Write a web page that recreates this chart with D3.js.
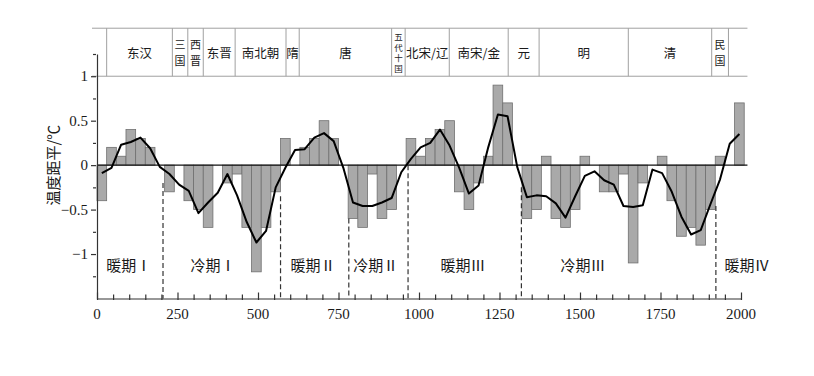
<!DOCTYPE html>
<html>
<head>
<meta charset="utf-8">
<script src="https://cdn.jsdelivr.net/npm/d3@7"></script>
<style>
  body { margin: 0; background: #fff; }
  svg text { fill: #1a1a1a; }
</style>
</head>
<body>
<div id="chart"></div>
<script>
// 30-year temperature anomaly bars (0-2010)
const binStart = d3.range(0, 2010, 30)
const anomaly = [
  -0.4, 0.2, 0.1, 0.4, 0.3, 0.2, 0, -0.3, 0, -0.4,
  -0.5, -0.7, 0, -0.2, -0.1, -0.7, -1.2, -0.7, -0.3, 0.3,
  0, 0.2, 0.3, 0.5, 0.3, 0, -0.6, -0.7, -0.1, -0.6,
  -0.5, 0, 0.3, 0.1, 0.3, 0.4, 0.5, -0.3, -0.5, -0.2,
  0.1, 0.9, 0.7, 0, -0.6, -0.5, 0.1, -0.6, -0.7, -0.5,
  0.1, 0, -0.3, -0.3, -0.1, -1.1, -0.2, 0, 0.1, -0.4,
  -0.8, -0.7, -0.9, -0.5, 0.1, 0, 0.7
]
// smoothed curve, one point per bin
const smooth = [
  -0.09, -0.03, 0.23, 0.26, 0.31, 0.19, -0.02, -0.1, -0.22, -0.29,
  -0.54, -0.42, -0.31, -0.1, -0.34, -0.64, -0.87, -0.74, -0.25, -0.03,
  0.17, 0.18, 0.31, 0.36, 0.27, -0.03, -0.42, -0.46, -0.46, -0.42,
  -0.37, -0.08, 0.07, 0.2, 0.25, 0.4, 0.22, -0.03, -0.32, -0.23,
  0.2, 0.57, 0.55, -0.02, -0.36, -0.34, -0.35, -0.43, -0.59, -0.35,
  -0.12, -0.07, -0.17, -0.22, -0.46, -0.47, -0.45, -0.05, -0.09, -0.3,
  -0.58, -0.78, -0.73, -0.44, -0.16, 0.24, 0.35
]

// dynasty band
const dynastyNames = ["东汉", "三国", "西晋", "东晋", "南北朝", "隋", "唐", "五代十国", "北宋/辽", "南宋/金", "元", "明", "清", "民国"]
const dynastyBounds = [30, 234, 282, 330, 429, 587, 628, 915, 957, 1094, 1277, 1373, 1650, 1909, 1961]
const stackedNames = ["三国", "西晋", "五代十国", "民国"]

// warm / cold periods
const periodNames = ["暖期Ⅰ", "冷期Ⅰ", "暖期Ⅱ", "冷期Ⅱ", "暖期Ⅲ", "冷期Ⅲ", "暖期Ⅳ"]
const periodLabelYear = [99, 360, 671, 866, 1137, 1509, 2019]
const periodBounds = [205, 570, 782, 966, 1318, 1922]
const boundTop = [-0.2, -0.35, -0.6, 0, -0.25, -0.46]

const xTicks = [0, 250, 500, 750, 1000, 1250, 1500, 1750, 2000]
const yTicks = [-1, -0.5, 0, 0.5, 1]

const width = 814
const height = 376

const svg = d3.select("#chart").append("svg").attr("width", width).attr("height", height)

const x = d3.scaleLinear().domain([0, 2000]).range([97, 741])
const y = d3.scaleLinear().domain([-1.5, 1.25]).range([298.5, 54])
const xEnd = x(2020)
const bandTop = y(1.54)
const serif = "'Liberation Serif', 'Times New Roman', serif"
const cjk = "'Noto Sans CJK SC', sans-serif"

// bars
svg.append("g")
  .selectAll("rect")
  .data(anomaly)
  .join("rect")
  .attr("x", (d, i) => x(binStart[i]))
  .attr("width", (d, i) => x(binStart[i] + 30) - x(binStart[i]))
  .attr("y", d => y(Math.max(0, d)))
  .attr("height", d => Math.abs(y(d) - y(0)))
  .attr("fill", "#a9a9a9")
  .attr("stroke", "#707070")
  .attr("stroke-width", 0.8)

// zero line
svg.append("line")
  .attr("x1", x(0)).attr("x2", xEnd)
  .attr("y1", y(0)).attr("y2", y(0))
  .attr("stroke", "#111").attr("stroke-width", 1.4)

// smoothed curve
const line = d3.line()
  .x((d, i) => x(binStart[i] + 15))
  .y(d => y(d))

svg.append("path")
  .datum(smooth)
  .attr("fill", "none")
  .attr("stroke", "#000")
  .attr("stroke-width", 2)
  .attr("stroke-linejoin", "round")
  .attr("d", line)

// period boundaries
svg.append("g")
  .selectAll("line")
  .data(periodBounds)
  .join("line")
  .attr("x1", d => x(d)).attr("x2", d => x(d))
  .attr("y1", (d, i) => y(boundTop[i]))
  .attr("y2", y(-1.5))
  .attr("stroke", "#333")
  .attr("stroke-width", 1.2)
  .attr("stroke-dasharray", "5,3")

svg.append("g")
  .selectAll("text")
  .data(periodNames)
  .join("text")
  .attr("x", (d, i) => x(periodLabelYear[i]))
  .attr("y", y(-1.12))
  .attr("text-anchor", "middle")
  .attr("dominant-baseline", "central")
  .attr("font-family", cjk)
  .attr("font-size", 15)
  .text(d => d)

// dynasty band
const band = svg.append("g")
band.selectAll("line.h")
  .data([bandTop, y(1)])
  .join("line")
  .attr("class", "h")
  .attr("x1", 92).attr("x2", xEnd)
  .attr("y1", d => d).attr("y2", d => d)
  .attr("stroke", "#a0a0a0").attr("stroke-width", 1)

band.selectAll("line.v")
  .data(dynastyBounds)
  .join("line")
  .attr("class", "v")
  .attr("x1", d => x(d)).attr("x2", d => x(d))
  .attr("y1", bandTop).attr("y2", y(1))
  .attr("stroke", "#a0a0a0").attr("stroke-width", 1)

const bandMid = (bandTop + y(1)) / 2
dynastyNames.forEach((name, i) => {
  const cx = (x(dynastyBounds[i]) + x(dynastyBounds[i + 1])) / 2
  if (stackedNames.includes(name)) {
    const chars = Array.from(name)
    const fs = chars.length > 2 ? 8.5 : 11
    const lh = chars.length > 2 ? 10.5 : 16
    chars.forEach((c, j) => {
      band.append("text")
        .attr("x", cx)
        .attr("y", bandMid + (j - (chars.length - 1) / 2) * lh)
        .attr("text-anchor", "middle")
        .attr("dominant-baseline", "central")
        .attr("font-family", cjk)
        .attr("font-size", fs)
        .text(c)
    })
  } else {
    band.append("text")
      .attr("x", cx)
      .attr("y", bandMid)
      .attr("text-anchor", "middle")
      .attr("dominant-baseline", "central")
      .attr("font-family", cjk)
      .attr("font-size", 12.5)
      .text(name)
  }
})

// x axis
const xAxis = svg.append("g").attr("transform", `translate(0,${y(-1.5)})`)
xAxis.call(d3.axisBottom(x).tickValues(d3.range(0, 2001, 50)).tickSize(0).tickFormat(""))
xAxis.select(".domain").attr("stroke", "#333").attr("stroke-width", 1.2)
xAxis.selectAll(".tick line")
  .attr("y1", 1.5)
  .attr("y2", d => xTicks.includes(d) ? -6 : -4)
  .attr("stroke", "#333").attr("stroke-width", 1.2)

svg.append("g")
  .selectAll("text")
  .data(xTicks)
  .join("text")
  .attr("x", d => x(d))
  .attr("y", y(-1.5) + 15)
  .attr("text-anchor", "middle")
  .attr("dominant-baseline", "central")
  .attr("font-family", serif)
  .attr("font-size", 15)
  .text(d => d)

// y axis
const yAxis = svg.append("g").attr("transform", `translate(${x(0)},0)`)
yAxis.call(d3.axisLeft(y).tickValues(d3.range(-1.25, 1.26, 0.25)).tickSize(0).tickFormat(""))
yAxis.select(".domain").attr("stroke", "#333").attr("stroke-width", 1.2)
yAxis.selectAll(".tick line")
  .attr("x1", -1)
  .attr("x2", d => yTicks.includes(d) ? -6 : -4)
  .attr("stroke", "#333").attr("stroke-width", 1.2)

svg.append("g")
  .selectAll("text")
  .data(yTicks)
  .join("text")
  .attr("x", x(0) - 9)
  .attr("y", d => y(d))
  .attr("text-anchor", "end")
  .attr("dominant-baseline", "central")
  .attr("font-family", serif)
  .attr("font-size", 15)
  .text(d => d3.format("")(d).replace("-", "−"))

svg.append("text")
  .attr("transform", `translate(52,${y(0)}) rotate(-90)`)
  .attr("text-anchor", "middle")
  .attr("dominant-baseline", "central")
  .attr("font-family", cjk)
  .attr("font-size", 15)
  .text("温度距平/℃")
</script>
</body>
</html>
